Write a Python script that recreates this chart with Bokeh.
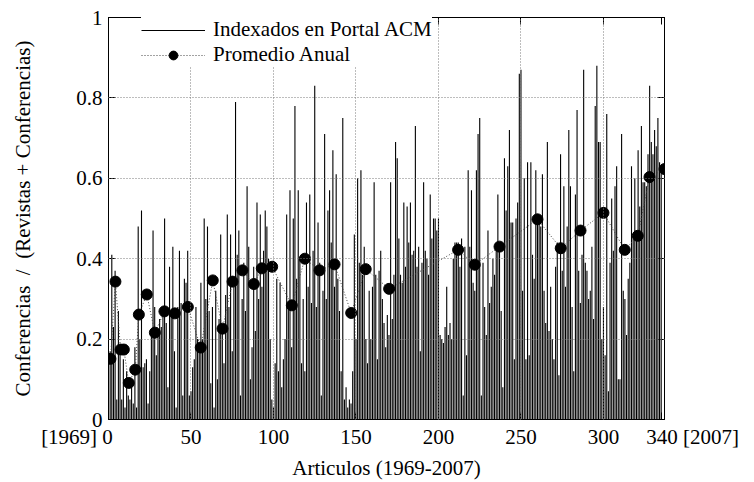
from bokeh.plotting import figure
from bokeh.models import (Range1d, FixedTicker, LinearAxis, Legend, LegendItem,
                          ColumnDataSource, CustomLabelingPolicy)
from bokeh.embed import file_html
from bokeh.resources import INLINE

FONT = "Liberation Serif"
FS = "21px"
NB = "\u00a0" * 12

# ---- data -------------------------------------------------------------
# ratio per article (article index 1..335)
ratio = [
    0.17, 0.41, 0.23, 0.37, 0.05, 0.27, 0.16, 0.05, 0.15, 0.03,
    0.12, 0.06, 0.05, 0.09, 0.04, 0.18, 0.03, 0.48, 0.20, 0.52,
    0.13, 0.14, 0.15, 0.04, 0.12, 0.22, 0.47, 0.28, 0.16, 0.22,
    0.25, 0.23, 0.28, 0.50, 0.24, 0.08, 0.38, 0.26, 0.43, 0.17,
    0.03, 0.28, 0.42, 0.29, 0.06, 0.35, 0.34, 0.42, 0.06, 0.07,
    0.13, 0.15, 0.28, 0.20, 0.18, 0.34, 0.20, 0.50, 0.30, 0.48,
    0.27, 0.09, 0.28, 0.03, 0.32, 0.10, 0.25, 0.46, 0.23, 0.14,
    0.31, 0.51, 0.28, 0.46, 0.17, 0.33, 0.79, 0.41, 0.47, 0.06,
    0.30, 0.39, 0.27, 0.58, 0.43, 0.10, 0.18, 0.38, 0.22, 0.54,
    0.30, 0.51, 0.33, 0.42, 0.52, 0.48, 0.40, 0.20, 0.05, 0.03,
    0.14, 0.35, 0.12, 0.34, 0.08, 0.15, 0.20, 0.51, 0.28, 0.57,
    0.18, 0.50, 0.78, 0.35, 0.57, 0.40, 0.14, 0.30, 0.12, 0.54,
    0.33, 0.56, 0.29, 0.42, 0.83, 0.28, 0.49, 0.39, 0.06, 0.32,
    0.71, 0.30, 0.52, 0.57, 0.44, 0.67, 0.33, 0.61, 0.35, 0.27,
    0.12, 0.75, 0.05, 0.08, 0.03, 0.05, 0.04, 0.12, 0.46, 0.20,
    0.60, 0.39, 0.62, 0.36, 0.43, 0.20, 0.14, 0.32, 0.20, 0.33,
    0.59, 0.36, 0.15, 0.37, 0.42, 0.30, 0.24, 0.18, 0.26, 0.21,
    0.59, 0.25, 0.36, 0.69, 0.65, 0.45, 0.36, 0.34, 0.54, 0.38,
    0.53, 0.44, 0.54, 0.41, 0.42, 0.73, 0.38, 0.43, 0.17, 0.39,
    0.59, 0.42, 0.40, 0.36, 0.56, 0.45, 0.50, 0.50, 0.47, 0.50,
    0.21, 0.20, 0.19, 0.23, 0.33, 0.21, 0.24, 0.20, 0.40, 0.44,
    0.44, 0.44, 0.38, 0.45, 0.06, 0.43, 0.16, 0.62, 0.43, 0.57,
    0.34, 0.32, 0.62, 0.71, 0.75, 0.06, 0.39, 0.28, 0.21, 0.47,
    0.29, 0.33, 0.40, 0.36, 0.44, 0.56, 0.43, 0.27, 0.08, 0.65,
    0.52, 0.63, 0.72, 0.49, 0.49, 0.15, 0.50, 0.54, 0.86, 0.87,
    0.32, 0.60, 0.15, 0.64, 0.16, 0.64, 0.41, 0.35, 0.62, 0.50,
    0.50, 0.48, 0.61, 0.32, 0.24, 0.69, 0.22, 0.33, 0.20, 0.15,
    0.38, 0.44, 0.11, 0.66, 0.37, 0.58, 0.33, 0.48, 0.72, 0.58,
    0.28, 0.12, 0.56, 0.77, 0.37, 0.29, 0.41, 0.87, 0.39, 0.37,
    0.30, 0.32, 0.43, 0.25, 0.78, 0.88, 0.69, 0.69, 0.20, 0.28,
    0.16, 0.76, 0.07, 0.39, 0.55, 0.42, 0.58, 0.63, 0.10, 0.10,
    0.71, 0.32, 0.30, 0.21, 0.35, 0.39, 0.63, 0.45, 0.60, 0.47,
    0.67, 0.53, 0.73, 0.59, 0.59, 0.58, 0.66, 0.83, 0.69, 0.66,
    0.72, 0.68, 0.75, 0.64, 0.62,
]
article = list(range(1, len(ratio) + 1))

# yearly averages (position = centre of that year's articles)
avg_x = [1.2, 4.2, 7.3, 9.3, 12.3, 16.2, 18.4, 23.2, 28.1, 33.9, 40.2, 48.1,
         55.9, 63.2, 69.1, 75.2, 81.2, 88.1, 92.9, 99.2, 111.1, 119.0, 127.9,
         137.0, 147.1, 155.9, 170.1, 211.9, 222.0, 237.0, 260.0, 274.1, 286.1,
         300.0, 312.9, 320.8, 327.9, 337.0]
avg_y = [0.151, 0.343, 0.174, 0.174, 0.091, 0.124, 0.261, 0.311, 0.216, 0.269,
         0.264, 0.280, 0.179, 0.346, 0.226, 0.343, 0.371, 0.337, 0.376, 0.380,
         0.284, 0.400, 0.371, 0.386, 0.265, 0.374, 0.325, 0.422, 0.385, 0.430,
         0.498, 0.426, 0.470, 0.514, 0.422, 0.457, 0.603, 0.623]

x_ticks = [0, 50, 100, 150, 200, 250, 300, 335]
x_tick_labels = {0: "[1969] 0" + NB, 50: "50", 100: "100", 150: "150",
                 200: "200", 250: "250", 300: "300", 335: NB + "340 [2007]"}
y_ticks = [0, 0.2, 0.4, 0.6, 0.8, 1]
y_tick_labels = {0: "0", 0.2: "0.2", 0.4: "0.4", 0.6: "0.6", 0.8: "0.8", 1: "1"}
grid_x = [50, 100, 150, 200, 250, 300]
grid_y = [0.2, 0.4, 0.6, 0.8]

# ---- figure -----------------------------------------------------------
p = figure(width=754, height=482, output_backend="svg", toolbar_location=None,
           x_range=Range1d(0, 337), y_range=Range1d(0, 1),
           min_border_left=108, min_border_right=90,
           min_border_top=17, min_border_bottom=63)
p.outline_line_color = "black"
p.outline_line_width = 1
p.background_fill_color = "white"
p.border_fill_color = "white"

src = ColumnDataSource(dict(x=article, v=ratio))
seg = p.segment(x0="x", y0=0, x1="x", y1="v", source=src,
                line_color="black", line_width=1.1)

asrc = ColumnDataSource(dict(x=avg_x, y=avg_y))
aline = p.line("x", "y", source=asrc, line_color="#444444", line_width=1,
               line_dash="1 2")
apts = p.scatter("x", "y", source=asrc, size=11, fill_color="black",
                 line_color="black")

no_labels = CustomLabelingPolicy(
    code="for (const i of indices) indices.unset(i); return indices")


def style_axis(ax, ticks, labels, show_labels=True):
    ax.ticker = FixedTicker(ticks=ticks)
    ax.major_tick_in = 7
    ax.major_tick_out = 0
    ax.minor_tick_line_color = None
    ax.axis_line_color = "black"
    ax.major_tick_line_color = "black"
    ax.major_label_text_font = FONT
    ax.major_label_text_color = "black"
    if show_labels:
        ax.major_label_overrides = labels
        ax.major_label_text_font_size = FS
    else:
        ax.major_label_policy = no_labels
        ax.major_label_text_font_size = "0px"
        ax.major_label_standoff = 0


xax = p.xaxis[0]
yax = p.yaxis[0]
style_axis(xax, x_ticks, x_tick_labels)
style_axis(yax, y_ticks, y_tick_labels)
xax.major_label_standoff = 5
yax.major_label_standoff = 6
xax.axis_label = "Articulos (1969-2007)"
yax.axis_label = "Conferencias \u00a0/\u00a0 (Revistas + Conferencias)"
for ax in (xax, yax):
    ax.axis_label_text_font = FONT
    ax.axis_label_text_font_size = FS
    ax.axis_label_text_font_style = "normal"
    ax.axis_label_text_color = "black"
xax.axis_label_standoff = 4
yax.axis_label_standoff = 38

top = LinearAxis()
style_axis(top, x_ticks, x_tick_labels, show_labels=False)
p.add_layout(top, "above")
right = LinearAxis()
style_axis(right, y_ticks, y_tick_labels, show_labels=False)
p.add_layout(right, "right")

for g, t in ((p.xgrid[0], grid_x), (p.ygrid[0], grid_y)):
    g.ticker = FixedTicker(ticks=t)
    g.grid_line_color = "#7a7a7a"
    g.grid_line_dash = "1 2"
    g.grid_line_width = 1
    g.level = "annotation"

legend = Legend(items=[LegendItem(label="Indexados en Portal ACM", renderers=[seg]),
                       LegendItem(label="Promedio Anual", renderers=[aline, apts])],
                location=(33, 352), orientation="vertical",
                label_text_font=FONT, label_text_font_size=FS,
                label_text_color="black",
                glyph_width=64, glyph_height=22, label_height=22,
                spacing=0, padding=0, margin=0, label_standoff=8,
                border_line_color=None, background_fill_color="white",
                background_fill_alpha=1.0)
p.add_layout(legend)

open("out.html", "w").write(file_html(p, INLINE))
